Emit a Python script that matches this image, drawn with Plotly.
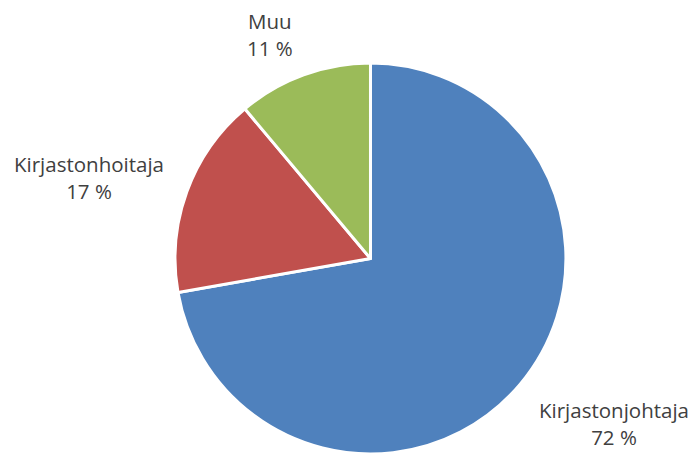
import plotly.graph_objects as go

labels = ["Kirjastonjohtaja", "Kirjastonhoitaja", "Muu"]
values = [13, 3, 2]
colors = ["#4F81BD", "#C0504D", "#9BBB59"]
# label anchor positions (pixels in the 696x454 frame) for each slice label
label_px = [614, 89, 270]
label_py = [423, 177, 34]

W, H = 696, 454
total = sum(values)
pct_text = [f"{round(v / total * 100)} %" for v in values]

fig = go.Figure(go.Pie(
    labels=labels,
    values=values,
    marker=dict(colors=colors, line=dict(color="white", width=3)),
    sort=False,
    direction="clockwise",
    rotation=0,
    textinfo="none",
    showlegend=False,
    domain=dict(x=[0.2514, 0.8132], y=[0.0, 0.861]),
))

for lab, pt, px, py in zip(labels, pct_text, label_px, label_py):
    fig.add_annotation(
        x=px / W, y=1 - py / H, xref="paper", yref="paper",
        text=f"{lab}<br>{pt}", showarrow=False,
        font=dict(family="Open Sans, Liberation Sans, sans-serif", size=20.5, color="#404040"),
        align="center", xanchor="center", yanchor="middle",
    )

fig.update_layout(
    width=W, height=H,
    margin=dict(l=0, r=0, t=0, b=0),
    paper_bgcolor="white", plot_bgcolor="white",
)

fig.write_html("out.html", config={"displayModeBar": False},
               post_script="document.body.style.margin='0';")
